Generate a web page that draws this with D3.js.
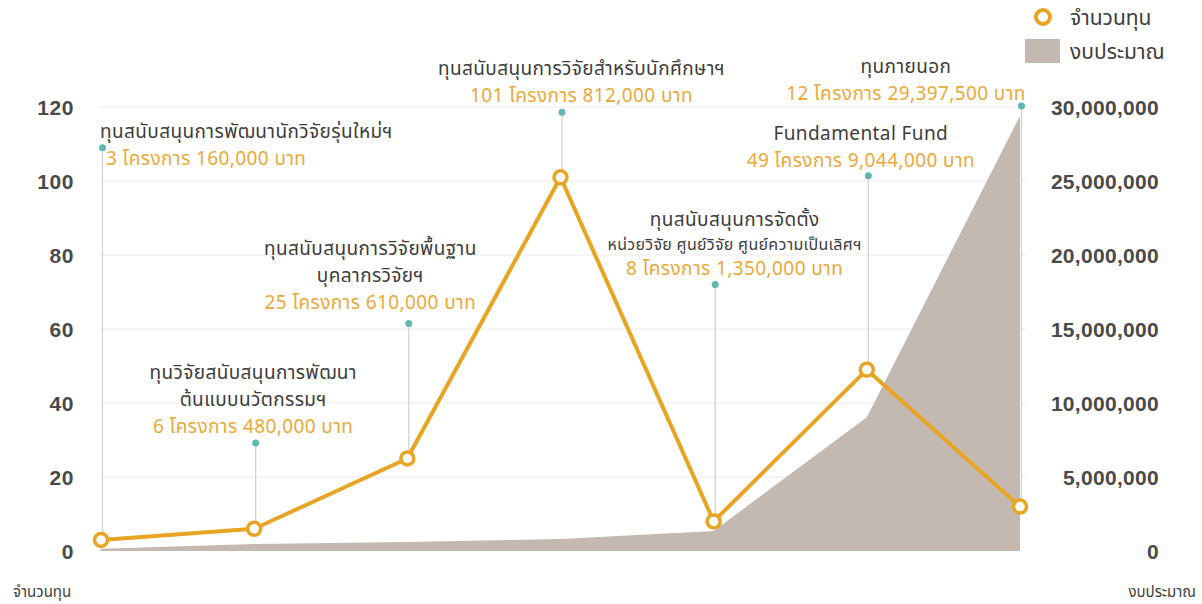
<!DOCTYPE html>
<html>
<head>
<meta charset="utf-8">
<script src="https://cdn.jsdelivr.net/npm/d3@7/dist/d3.min.js"></script>
<style>
  html, body { margin: 0; padding: 0; background: #fff; }
  svg { display: block; font-family: "Noto Sans Thai", "Noto Sans", "Liberation Sans", sans-serif; }
</style>
</head>
<body>
<svg id="chart" width="1202" height="604"></svg>
<script>
// ---- data ----
const categories = ["c1", "c2", "c3", "c4", "c5", "c6", "c7"];
const counts = [3, 6, 25, 101, 8, 49, 12];
const budgets = [160000, 480000, 610000, 812000, 1350000, 9044000, 29397500];
const titles = [
  ["ทุนสนับสนุนการพัฒนานักวิจัยรุ่นใหม่ฯ"],
  ["ทุนวิจัยสนับสนุนการพัฒนา", "ต้นแบบนวัตกรรมฯ"],
  ["ทุนสนับสนุนการวิจัยพื้นฐาน", "บุคลากรวิจัยฯ"],
  ["ทุนสนับสนุนการวิจัยสำหรับนักศึกษาฯ"],
  ["ทุนสนับสนุนการจัดตั้ง", "หน่วยวิจัย ศูนย์วิจัย ศูนย์ความเป็นเลิศฯ"],
  ["Fundamental Fund"],
  ["ทุนภายนอก"]
];
const countTicks = [0, 20, 40, 60, 80, 100, 120];
const budgetTicks = [0, 5000000, 10000000, 15000000, 20000000, 25000000, 30000000];
const legendLabels = ["จำนวนทุน", "งบประมาณ"];
const axisTitles = ["จำนวนทุน", "งบประมาณ"];

// ---- layout (label anchor heights in count units, offsets in px) ----
const labelAt = [109, 29.2, 61.5, 118.6, 72, 101.4, 120.3];
const labelDx = [0, -1, -37, 21, 21, -6, -114];
const labelGap = [0, 10, 14, 10, 10, 9, 6];
const lineStep = [26, 27, 27, 27, 24.5, 27, 27];

const svg = d3.select("#chart");
const LINE = "#e8a423", AREA = "#c4b9b0", TEXT = "#3d3d3d", NUM = "#e9a93a", TEAL = "#63b5b1";

const x = d3.scalePoint().domain(categories).range([101, 1020]);
const yL = d3.scaleLinear().domain([0, 120]).range([551, 107]);
const yR = d3.scaleLinear().domain([0, 30000000]).range([551, 107]);

// gridlines
svg.append("g").selectAll("line").data(countTicks.slice(1)).join("line")
  .attr("x1", 100).attr("x2", 1026)
  .attr("y1", d => yL(d)).attr("y2", d => yL(d))
  .attr("stroke", "#ececec").attr("stroke-width", 1);

// area (budget)
const area = d3.area()
  .x((d, i) => x(categories[i]))
  .y0(yR(0))
  .y1(d => yR(d));
svg.append("path").datum(budgets).attr("d", area).attr("fill", AREA);

// left axis
const axL = d3.axisLeft(yL).tickValues(countTicks).tickSize(0).tickPadding(0);
const gL = svg.append("g").attr("transform", "translate(74,0)").call(axL);
gL.select(".domain").remove();
gL.selectAll("text").attr("font-size", 21).attr("font-weight", "bold").attr("fill", "#4a4a4a")
  .attr("letter-spacing", 0.6).attr("dy", "0.35em")
  .attr("font-family", "'Liberation Sans', Arial, sans-serif");

// right axis
const axR = d3.axisRight(yR).tickValues(budgetTicks).tickSize(0).tickPadding(0)
  .tickFormat(d3.format(","));
const gR = svg.append("g").attr("transform", "translate(1159,0)").call(axR);
gR.select(".domain").remove();
gR.selectAll("text").attr("text-anchor", "end").attr("font-size", 21).attr("font-weight", "bold")
  .attr("letter-spacing", 0.3).attr("dy", "0.35em")
  .attr("fill", "#4a4a4a").attr("font-family", "'Liberation Sans', Arial, sans-serif");

// axis titles
svg.append("text").attr("x", 13).attr("y", 597).attr("font-size", 15).attr("fill", TEXT).text(axisTitles[0]);
svg.append("text").attr("x", 1196).attr("y", 597).attr("text-anchor", "end").attr("font-size", 15).attr("fill", TEXT).text(axisTitles[1]);

// leader lines
svg.append("g").selectAll("line").data(counts).join("line")
  .attr("x1", (d, i) => x(categories[i]) + 1.5).attr("x2", (d, i) => x(categories[i]) + 1.5)
  .attr("y1", d => yL(d)).attr("y2", (d, i) => yL(labelAt[i]))
  .attr("stroke", "#cfcfcf").attr("stroke-width", 1.2);

// line
const line = d3.line().x((d, i) => x(categories[i])).y(d => yL(d));
svg.append("path").datum(counts).attr("d", line)
  .attr("fill", "none").attr("stroke", LINE).attr("stroke-width", 4).attr("stroke-linejoin", "round");

// markers
svg.append("g").selectAll("circle").data(counts).join("circle")
  .attr("cx", (d, i) => x(categories[i])).attr("cy", d => yL(d)).attr("r", 6.5)
  .attr("fill", "#fff").attr("stroke", LINE).attr("stroke-width", 3.5);

// teal dots
svg.append("g").selectAll("circle").data(labelAt).join("circle")
  .attr("cx", (d, i) => x(categories[i]) + 1.5).attr("cy", d => yL(d)).attr("r", 3.5)
  .attr("fill", TEAL);

// annotations
const fmt = d3.format(",");
const TITLE_FS = 19, NUM_FS = 19, SMALL_FS = 16;
categories.forEach((c, i) => {
  const cx = x(c) + labelDx[i];
  const dotY = yL(labelAt[i]);
  const lines = titles[i].map((t, j) => ({ t, small: i === 4 && j === 1, num: false }));
  lines.push({ t: counts[i] + " โครงการ " + fmt(budgets[i]) + " บาท", num: true });
  const g = svg.append("g");
  if (i === 0) {
    g.append("text").attr("x", cx - 1).attr("y", dotY - 10).attr("font-size", TITLE_FS)
      .attr("letter-spacing", 0.4).attr("fill", TEXT).text(lines[0].t);
    g.append("text").attr("x", cx + 5).attr("y", dotY + 17).attr("font-size", NUM_FS)
      .attr("letter-spacing", 0.4).attr("fill", NUM).text(lines[1].t);
    return;
  }
  const n = lines.length;
  lines.forEach((l, j) => {
    const base = dotY - labelGap[i] - (n - 1 - j) * lineStep[i];
    g.append("text").attr("x", cx).attr("y", base)
      .attr("text-anchor", "middle")
      .attr("font-size", l.small ? SMALL_FS : l.num ? NUM_FS : TITLE_FS)
      .attr("letter-spacing", l.small ? 0.3 : 0.4)
      .attr("fill", l.num ? NUM : TEXT)
      .text(l.t);
  });
});

// legend
svg.append("circle").attr("cx", 1043).attr("cy", 17).attr("r", 7).attr("fill", "#fff").attr("stroke", LINE).attr("stroke-width", 4);
svg.append("text").attr("x", 1070).attr("y", 25).attr("font-size", 21).attr("fill", TEXT).text(legendLabels[0]);
svg.append("rect").attr("x", 1025).attr("y", 39).attr("width", 35).attr("height", 24).attr("fill", AREA);
svg.append("text").attr("x", 1070).attr("y", 59).attr("font-size", 21).attr("fill", TEXT).text(legendLabels[1]);
</script>
</body>
</html>
